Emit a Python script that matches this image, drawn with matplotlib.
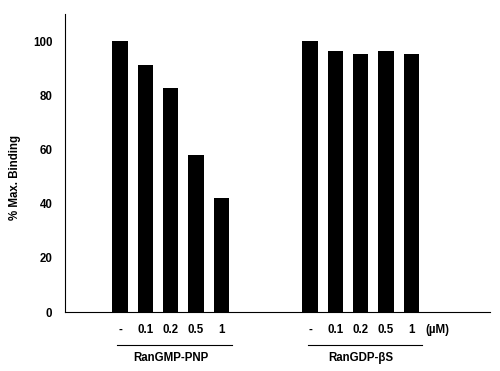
import numpy as np
import matplotlib.pyplot as plt

plt.rcParams['font.family'] = ['Liberation Sans', 'DejaVu Sans']
plt.rcParams['font.weight'] = 'bold'

doses = ['-', '0.1', '0.2', '0.5', '1']
gmp_vals = [100, 91.2, 82.8, 57.8, 42.2]
gdp_vals = [100, 96.2, 95.1, 96.2, 95.1]
groups = ['RanGMP-PNP', 'RanGDP-\u03b2S']

x1 = np.arange(5)
x2 = np.arange(5) + 7.5

fs = 8.3

fig = plt.figure(figsize=(5, 3.71), dpi=100)
ax = fig.add_axes([0.13, 0.159, 0.85, 0.803])

ax.bar(x1, gmp_vals, width=0.6, color='black')
ax.bar(x2, gdp_vals, width=0.6, color='black')

ax.set_xlim(-2.17, 14.6)
ax.set_ylim(0, 110)
ax.set_yticks([0, 20, 40, 60, 80, 100])
ax.tick_params(axis='y', length=0, labelsize=fs, pad=9)
ax.set_xticks([])
for s in ['top', 'right']:
    ax.spines[s].set_visible(False)
ax.spines['left'].set_linewidth(0.8)
ax.spines['bottom'].set_linewidth(0.8)
ax.set_ylabel('% Max. Binding', fontsize=fs, fontweight='bold')
ax.yaxis.set_label_coords(-0.104, 0.45)

# dose labels, underline and group names below the axis
for xs, name in [(x1, groups[0]), (x2, groups[1])]:
    for xi, d in zip(xs, doses):
        ax.text(xi, -6.5, d, ha='center', va='center', fontsize=fs, fontweight='bold')
    ax.plot([xs[0] - 0.1, xs[-1] + 0.4], [-12.3, -12.3], color='black', lw=0.8, clip_on=False)
    ax.text(xs[2], -16.8, name, ha='center', va='center', fontsize=fs, fontweight='bold')
ax.text(x2[-1] + 0.55, -6.5, '(\u00b5M)', ha='left', va='center', fontsize=fs, fontweight='bold')

fig.savefig('out.png', dpi=100)
